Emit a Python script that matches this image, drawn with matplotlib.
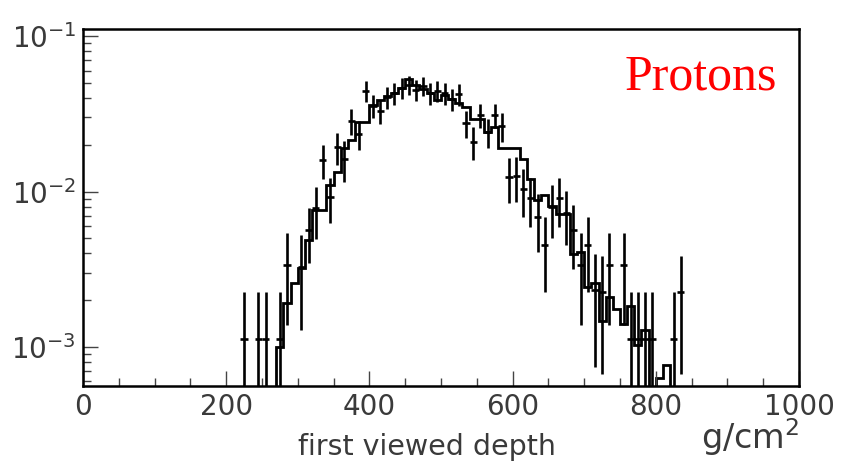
import matplotlib
matplotlib.use("Agg")
import matplotlib.pyplot as plt
import matplotlib.ticker as mticker
import numpy as np

# simulated distribution, 10 g/cm2 bins from 260 to 830 (zeros = empty bins)
bin_edges = np.arange(260, 840, 10)
sim_values = [
    0.0, 1.00e-3, 1.93e-3, 2.59e-3, 3.24e-3, 4.90e-3, 7.64e-3, 7.64e-3,
    1.11e-2, 1.34e-2, 1.91e-2, 2.15e-2, 2.81e-2, 2.81e-2, 3.61e-2, 3.89e-2,
    4.13e-2, 4.32e-2, 4.65e-2, 5.31e-2, 4.86e-2, 4.58e-2, 4.32e-2, 3.89e-2,
    4.19e-2, 3.95e-2, 3.72e-2, 3.51e-2, 2.94e-2, 2.94e-2, 2.42e-2, 2.61e-2,
    1.91e-2, 1.91e-2, 1.91e-2, 1.63e-2, 1.21e-2, 8.86e-3, 9.54e-3, 8.11e-3,
    7.20e-3, 7.20e-3, 3.98e-3, 4.10e-3, 2.44e-3, 2.59e-3, 1.46e-3, 2.11e-3,
    1.76e-3, 1.41e-3, 1.84e-3, 1.03e-3, 1.29e-3, 0.0, 6.35e-4, 7.69e-4, 0.0,
]

# measured points (bin centres), value and statistical error
data_x = [
    225, 245, 255, 275, 285, 305, 315, 325, 335, 345, 355, 365, 375, 385,
    395, 405, 415, 425, 435, 445, 455, 465, 475, 485, 495, 505, 515, 525,
    535, 545, 555, 565, 575, 585, 595, 605, 615, 625, 635, 645, 655, 665,
    675, 685, 695, 705, 715, 725, 735, 755, 765, 775, 785, 795, 825, 835,
]
data_y = [
    1.13e-3, 1.13e-3, 1.13e-3, 1.13e-3, 3.38e-3, 3.28e-3, 5.68e-3, 7.87e-3,
    1.60e-2, 9.26e-3, 1.94e-2, 1.63e-2, 2.85e-2, 2.35e-2, 4.45e-2, 3.56e-2,
    3.31e-2, 4.07e-2, 4.32e-2, 4.65e-2, 4.86e-2, 4.51e-2, 4.80e-2, 4.32e-2,
    4.45e-2, 4.32e-2, 3.95e-2, 4.26e-2, 2.77e-2, 2.09e-2, 3.12e-2, 2.42e-2,
    3.12e-2, 2.65e-2, 1.25e-2, 1.26e-2, 1.04e-2, 9.12e-3, 6.89e-3, 4.55e-3,
    7.99e-3, 9.12e-3, 7.31e-3, 5.68e-3, 3.38e-3, 4.55e-3, 2.34e-3, 2.27e-3,
    3.38e-3, 3.38e-3, 1.13e-3, 1.13e-3, 1.13e-3, 1.13e-3, 1.13e-3, 2.27e-3,
]
data_err = [
    1.13e-3, 1.13e-3, 1.13e-3, 1.13e-3, 2.0e-3, 2.0e-3, 2.2e-3, 2.9e-3,
    4.0e-3, 3.0e-3, 4.5e-3, 4.8e-3, 5.5e-3, 5.0e-3, 7.0e-3, 6.0e-3,
    6.0e-3, 6.5e-3, 7.0e-3, 7.0e-3, 7.0e-3, 7.0e-3, 7.0e-3, 7.0e-3,
    7.0e-3, 7.0e-3, 6.5e-3, 7.0e-3, 5.5e-3, 5.0e-3, 5.5e-3, 5.0e-3,
    5.5e-3, 5.5e-3, 4.0e-3, 4.0e-3, 3.5e-3, 3.2e-3, 2.8e-3, 2.3e-3,
    3.0e-3, 3.2e-3, 2.8e-3, 2.5e-3, 2.0e-3, 2.3e-3, 1.6e-3, 1.6e-3,
    2.0e-3, 2.0e-3, 1.13e-3, 1.13e-3, 1.13e-3, 1.13e-3, 1.13e-3, 1.6e-3,
]
half_bin = 5

x_ticks = [0, 200, 400, 600, 800, 1000]

fig = plt.figure(figsize=(8.5, 4.66), dpi=100)
ax = fig.add_axes([0.0976, 0.1717, 0.8424, 0.7661])

ax.set_yscale("log", nonpositive="clip")
ax.stairs(sim_values, bin_edges, baseline=None, color="black", linewidth=2.0)
ax.errorbar(data_x, data_y, yerr=data_err, xerr=half_bin, fmt="none",
            ecolor="black", elinewidth=1.9, capsize=0)

ax.set_xlim(0, 1000)
ax.set_ylim(5.6e-4, 0.1114)

ax.set_xticks(x_ticks)
ax.xaxis.set_minor_locator(mticker.MultipleLocator(50))
ax.yaxis.set_minor_formatter(mticker.NullFormatter())
ax.tick_params(which="both", direction="in", top=False, right=False,
               width=1, colors="#444444", labelcolor="#3a3a3a", labelsize=20)
ax.tick_params(which="major", length=11)
ax.tick_params(which="minor", length=6)
ax.tick_params(axis="x", pad=5)
ax.tick_params(axis="y", pad=5)

for sp in ax.spines.values():
    sp.set_linewidth(1.8)

fig.text(0.502, 0.040, "first viewed depth", ha="center", va="center",
         fontsize=20.5, color="#3a3a3a")
fig.text(0.94, 0.036, "g/cm$^2$", ha="right", va="baseline",
         fontsize=24, color="#3a3a3a")
fig.text(0.735, 0.807, "Protons", ha="left", va="baseline",
         fontsize=36, color="red", family="Liberation Serif")

fig.savefig("out.png", dpi=100)
